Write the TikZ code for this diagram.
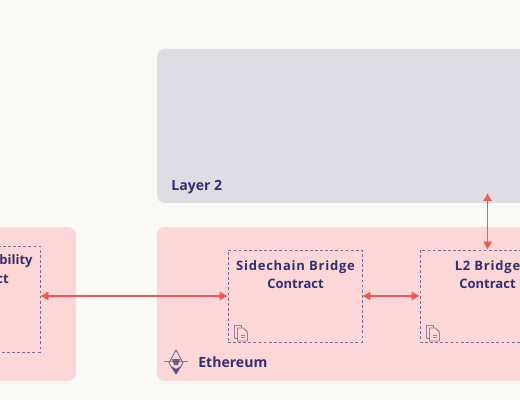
\documentclass[tikz,border=0pt]{standalone}
\usepackage{fontspec}
\setmainfont{Open Sans}
\usetikzlibrary{arrows.meta,positioning}
\definecolor{pagebg}{HTML}{F9FAF5}
\definecolor{chainpink}{HTML}{FBD7D7}
\definecolor{layergray}{HTML}{DEDDE4}
\definecolor{inkblue}{HTML}{332E6E}
\definecolor{arrowred}{HTML}{F25555}
\definecolor{dashpurple}{HTML}{7C6A8C}
\definecolor{iconpurple}{HTML}{8C82A6}
\newcommand{\wideline}[1]{{\addfontfeature{LetterSpace=6}#1}}
\tikzset{
  chain/.style={rectangle, fill=chainpink, rounded corners=1.6mm, minimum height=30.8mm, inner sep=0pt},
  layertwo/.style={rectangle, fill=layergray, rounded corners=1.6mm, minimum height=30.8mm, inner sep=0pt},
  contract/.style={rectangle, draw=dashpurple, line width=0.4pt, dash pattern=on 1.6pt off 1.3pt, minimum width=27mm, minimum height=18.4mm, inner sep=0pt},
  title/.style={font=\fontsize{7.4}{10.2}\selectfont\bfseries, text=inkblue, align=center, inner sep=0pt},
  chainname/.style={font=\fontsize{8}{10}\selectfont\bfseries, text=inkblue, inner sep=0pt},
  bridge/.style={{Latex[length=1.6mm,width=1.9mm]}-{Latex[length=1.6mm,width=1.9mm]}, line width=0.75pt, arrowred},
  docicon/.style={draw=iconpurple, line width=0.45pt, fill=chainpink, line join=round}
}
\begin{document}
\begin{tikzpicture}
  \clip (0,0) rectangle (10.4,8);
  \fill[pagebg] (0,0) rectangle (10.4,8);
  % outer panels
  \node[layertwo, minimum width=88.6mm] (layer) at (7.57,5.48) {};
  \node[chain, minimum width=88.6mm] (ethereum) at (7.57,1.92) {};
  \node[chain, minimum width=35.2mm] (leftchain) at (-0.24,1.92) {};
  % contracts
  \node[contract, minimum width=26.8mm] (sidechain) at (5.90,2.08) {};
  \node[contract] (l2bridge) at (9.75,2.08) {};
  \node[contract, minimum height=21.2mm] (leftcontract) at (-0.55,2.02) {};
  % labels
  \node[title] (sidechaintext) at (5.91,2.50) {\wideline{Sidechain Bridge}\\Contract};
  \node[title] (l2text) at (9.75,2.50) {\wideline{L2 Bridge}\\Contract};
  \node[title, anchor=east] (lefttexta) at (0.66,2.77) {bility};
  \node[title, anchor=east] (lefttextb) at (0.18,2.42) {ct};
  \node[chainname, anchor=west] (layername) at (3.42,4.26) {Layer 2};
  \node[chainname, anchor=west] (ethname) at (3.96,0.76) {Ethereum};
  % arrows
  \coordinate (l2entry) at (9.75,4.14);
  \draw[bridge] (leftcontract.east |- sidechain.west) -- (sidechain.west);
  \draw[bridge] (sidechain.east) -- (l2bridge.west);
  \draw[bridge] (l2entry) -- (l2bridge.north);
  % document icons
  \foreach \x in {4.68,8.52} {
    \draw[docicon] (\x,1.5) -- (\x,1.24) -- (\x+0.15,1.24) -- (\x+0.15,1.5) -- cycle;
    \draw[docicon] (\x+0.07,1.44) -- (\x+0.07,1.18) -- (\x+0.27,1.18) -- (\x+0.27,1.36) -- (\x+0.19,1.44) -- cycle;
    \draw[draw=iconpurple, line width=0.4pt] (\x+0.13,1.3) -- (\x+0.21,1.3) (\x+0.13,1.26) -- (\x+0.21,1.26);
  }
  % ether mark
  \draw[draw=iconpurple, line width=0.4pt] (3.28,0.77) -- (3.76,0.77);
  \draw[draw=iconpurple!60!inkblue, line width=0.45pt, line join=round] (3.52,1.0) -- (3.38,0.74) -- (3.52,0.52) -- (3.66,0.74) -- cycle;
  \fill[iconpurple!40!inkblue] (3.42,0.68) -- (3.52,0.52) -- (3.62,0.68) -- (3.52,0.62) -- cycle;
  \fill[iconpurple!60!inkblue] (3.44,0.82) -- (3.6,0.82) -- (3.56,0.7) -- (3.48,0.7) -- cycle;
\end{tikzpicture}
\end{document}
